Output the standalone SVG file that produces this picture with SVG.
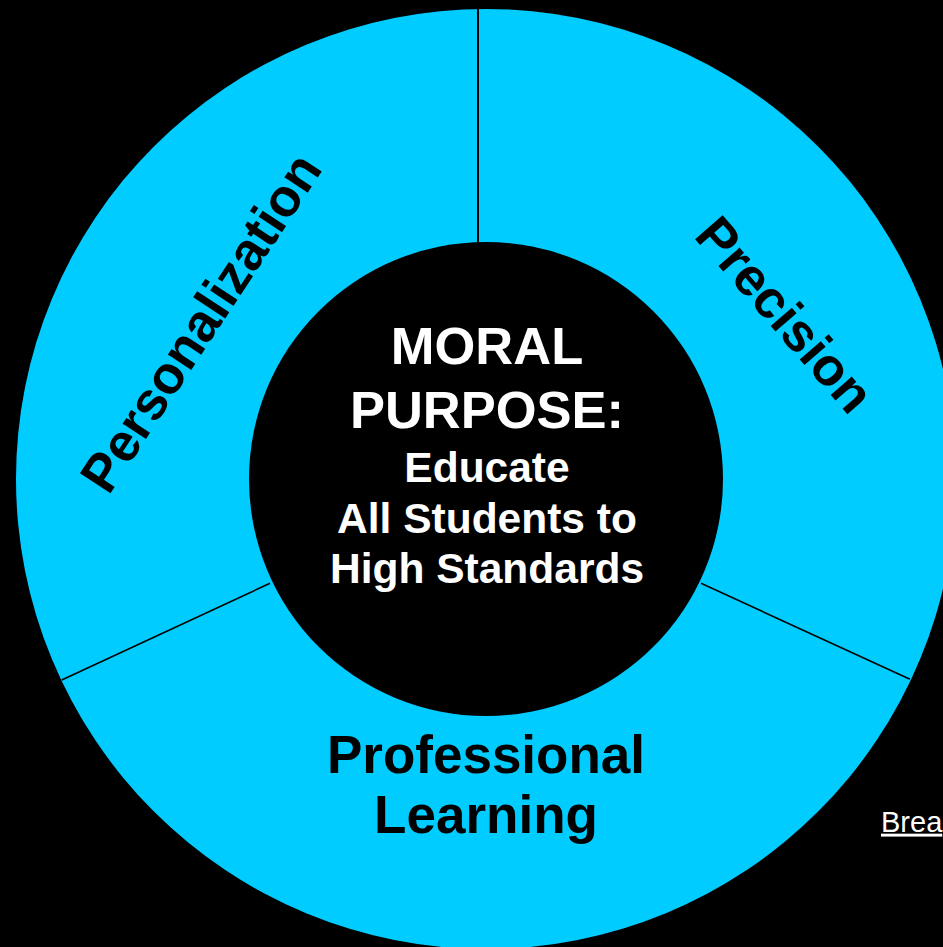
<svg xmlns="http://www.w3.org/2000/svg" width="943" height="947" viewBox="0 0 943 947">
  <style>
    .seg { font-family: "Liberation Sans", Arial, sans-serif; font-weight: bold; font-size: 53px; fill: #000; text-anchor: middle; }
    .core { font-family: "Liberation Sans", Arial, sans-serif; font-weight: bold; fill: #fff; text-anchor: middle; }
    .big { font-size: 52.5px; }
    .small { font-size: 42.5px; }
    .divider { stroke: #000; fill: none; }
  </style>
  <rect x="0" y="0" width="943" height="947" fill="#000"/>
  <g id="ring">
    <circle cx="486" cy="479" r="470" fill="#00CCFF"/>
  </g>
  <g id="connectors">
    <line class="divider" x1="478" y1="9" x2="478" y2="243" stroke-width="2"/>
    <line class="divider" x1="61.7" y1="680" x2="270" y2="583.3" stroke-width="1.6"/>
    <line class="divider" x1="701" y1="583.3" x2="910" y2="679.3" stroke-width="1.6"/>
  </g>
  <g id="personalization">
    <text class="seg" transform="translate(216,332.5) rotate(-56.7)">Personalization</text>
  </g>
  <g id="precision">
    <text class="seg" transform="translate(771.1,326.6) rotate(49)">Precision</text>
  </g>
  <g id="professional-learning">
    <text class="seg" x="486" y="773">Professional</text>
    <text class="seg" x="486" y="833">Learning</text>
  </g>
  <g id="moral-purpose">
    <circle cx="486" cy="479" r="237" fill="#000"/>
    <text class="core big" x="487" y="364">MORAL</text>
    <text class="core big" x="487" y="428">PURPOSE:</text>
    <text class="core small" x="487" y="481.5">Educate</text>
    <text class="core small" x="487" y="533">All Students to</text>
    <text class="core small" x="487" y="583">High Standards</text>
  </g>
  <g id="link">
    <text x="881" y="831.7" font-family="Liberation Sans, Arial, sans-serif" font-size="29" fill="#fff" text-decoration="underline">Brea</text>
  </g>
</svg>
